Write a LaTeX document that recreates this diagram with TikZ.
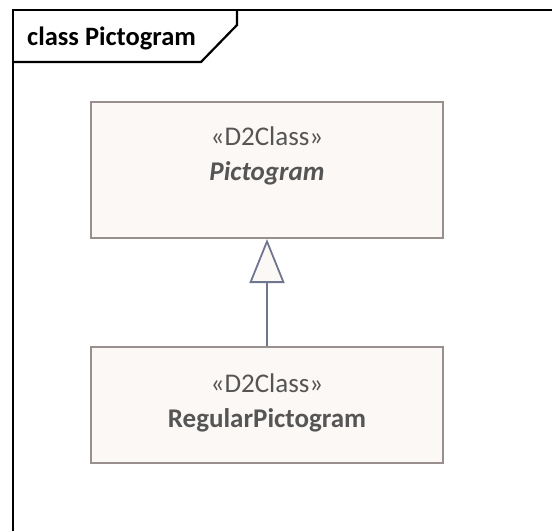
\documentclass[tikz,border=0pt]{standalone}
\usepackage{fontspec}
\setmainfont{Carlito}
\usetikzlibrary{arrows.meta}
\definecolor{boxfill}{HTML}{FCF8F6}
\definecolor{boxline}{HTML}{9A8F8F}
\definecolor{txt}{HTML}{555555}
\definecolor{genline}{HTML}{707590}

\tikzset{
  classbox/.style={draw=boxline, fill=boxfill, line width=2pt, minimum width=352pt, align=center, text=txt, inner sep=0pt},
  classtext/.style={anchor=base, text=txt, inner sep=0pt, font=\fontsize{27}{32}\selectfont},
  gen/.style={draw=genline, line width=1.8pt, -{Triangle[width=35pt,length=44pt,fill=boxfill]}}
}

\begin{document}
\begin{tikzpicture}[x=1pt,y=-1pt]
\useasboundingbox (0,0) rectangle (552,531);

% frame
\draw[line width=2.2pt] (13,531) -- (13,10) -- (552,10);
\draw[line width=2.2pt] (13,62) -- (201,62) -- (237,25) -- (237,10);
\node[anchor=base west, inner sep=0pt, font=\fontsize{26.5}{31}\selectfont\bfseries] (title) at (27,45) {class Pictogram};

\node[classbox, minimum height=136pt] (pict) at (267,170) {};
\node[classtext] (st1) at (267,145) {«D2Class»};
\node[classtext, font=\fontsize{27}{32}\selectfont\bfseries\itshape] (nm1) at (267,180) {Pictogram};

\node[classbox, minimum height=116pt] (reg) at (267,405) {};
\node[classtext] (st2) at (267,392) {«D2Class»};
\node[classtext, font=\fontsize{27}{32}\selectfont\bfseries] (nm2) at (267,427) {RegularPictogram};

% generalisation
\draw[gen] (reg.north) -- (pict.south);
\end{tikzpicture}
\end{document}
